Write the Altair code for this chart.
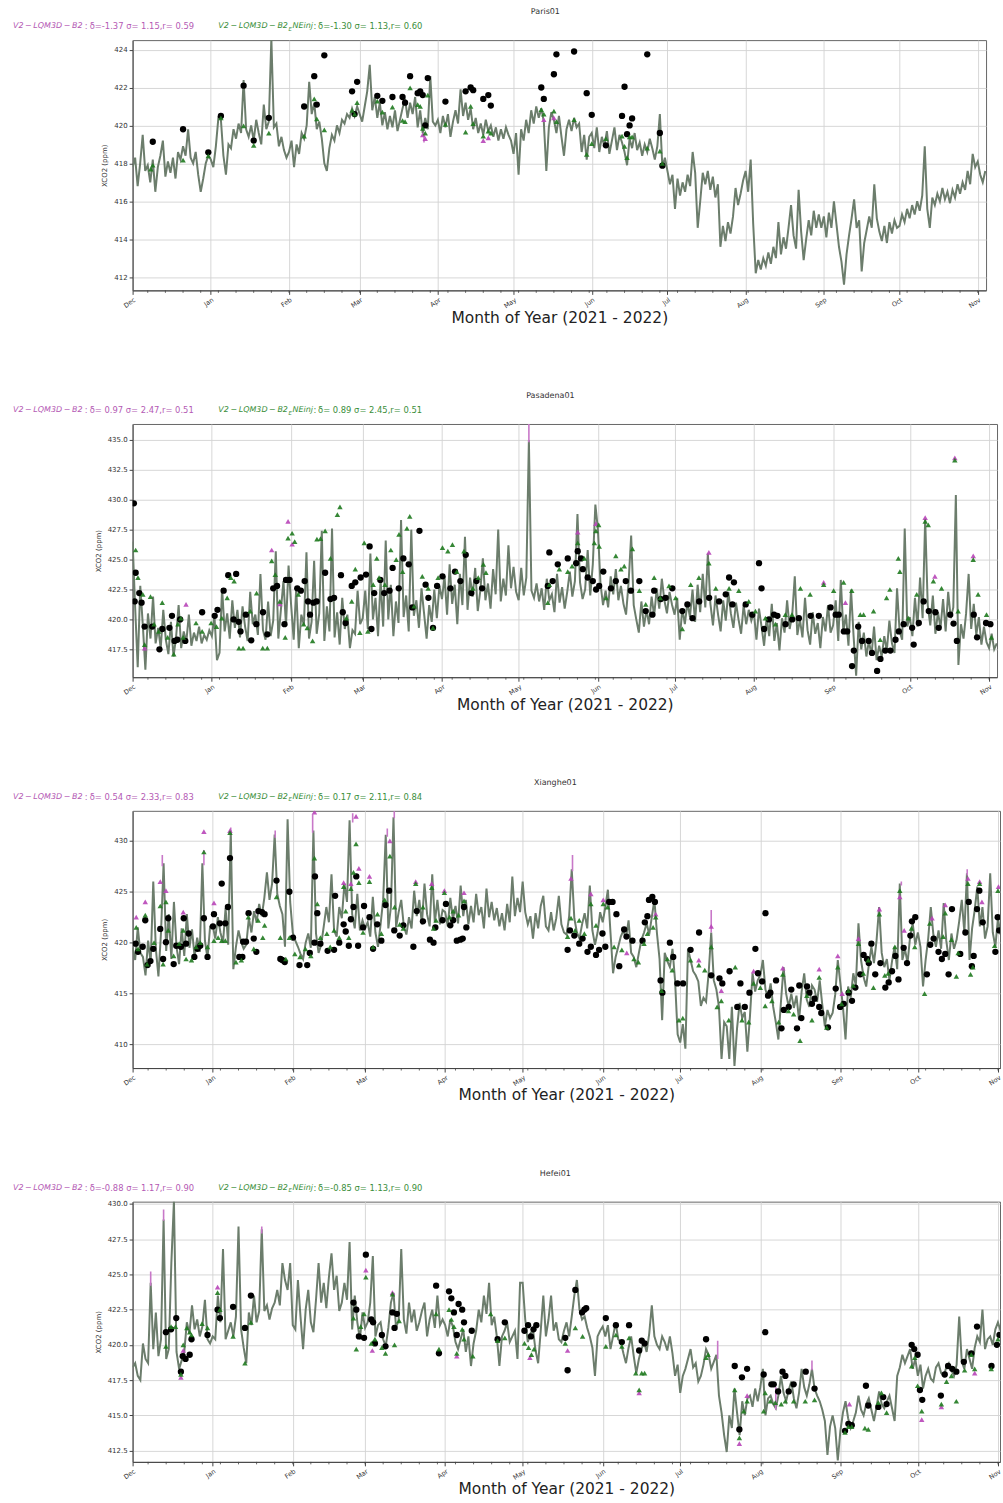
import altair as alt
import pandas as pd

START = pd.Timestamp("2021-12-01")
MONTHS = ["2021-12-01"] + ["2022-%02d-01" % m for m in range(1, 12)]

# ---------------- Paris01 ----------------
PARIS_LINE = [
    417.8, 418.3, 416.8, 418.0, 419.5, 417.6, 417.9, 417.0, 418.2, 416.5, 417.8, 418.4, 419.2, 417.3, 418.1, 417.5, 418.3, 417.2, 418.6, 418.2, 418.9, 418.4, 419.8, 418.3, 418.0, 418.6, 417.4, 416.5, 417.2, 418.0, 418.4,
    418.2, 417.8, 418.9, 420.4, 420.3, 418.4, 417.4, 419.0, 418.8, 419.8, 419.3, 420.1, 419.6, 422.4, 419.8, 419.4, 420.0, 419.2, 420.3, 419.6, 419.0, 421.1, 419.8, 420.2, 424.6, 419.9, 420.1, 418.9, 419.4, 418.7, 418.3,
    418.6, 419.2, 417.8, 419.0, 418.5, 419.6, 419.3, 420.0, 422.3, 420.6, 421.2, 419.8, 420.2, 419.3, 418.0, 417.6, 418.8, 419.5, 419.2, 420.0, 419.6, 420.3, 420.1, 420.6, 420.4, 420.9, 420.5, 421.0,
    420.6, 420.2, 421.0, 421.8, 423.2, 420.8, 421.5, 420.4, 421.2, 420.0, 420.7, 419.8, 420.5, 419.9, 420.8, 419.7, 420.3, 420.9, 421.4, 420.4, 421.2, 420.6, 421.5, 419.9, 420.8, 419.6, 420.4, 419.8, 422.6, 420.2, 420.0,
    420.3, 419.6, 420.5, 419.9, 420.6, 419.4, 420.2, 420.8, 420.1, 421.9, 420.5, 421.2, 420.3, 420.9, 419.8, 420.4, 419.6, 420.1, 419.5, 420.3, 419.7, 420.0, 419.4, 419.9, 419.2, 419.8, 419.3, 419.9, 419.5, 419.2,
    418.5, 419.6, 417.4, 419.8, 419.2, 420.3, 419.6, 420.8, 420.1, 421.0, 420.4, 420.9, 420.2, 417.6, 419.9, 420.7, 420.3, 419.6, 420.5, 419.4, 418.4, 419.8, 420.3, 419.7, 420.4, 419.9, 420.1, 418.6, 419.5, 418.2, 419.4,
    419.6, 418.8, 419.9, 418.6, 419.4, 418.9, 419.7, 418.5, 419.2, 419.9, 418.7, 419.5, 419.1, 418.6, 417.9, 419.3, 418.8, 419.6, 418.7, 419.1, 418.4, 419.0, 418.6, 419.3, 418.8, 418.2, 418.9, 420.6, 417.8, 418.3,
    417.6, 416.9, 417.4, 415.6, 417.2, 416.3, 417.0, 416.5, 417.4, 416.8, 418.6, 417.5, 414.6, 416.0, 417.5, 416.9, 417.6, 416.6, 417.3, 416.2, 416.9, 413.6, 414.7, 413.9, 414.9, 414.3, 415.2, 416.7, 415.8, 416.4, 417.1,
    417.6, 416.5, 418.2, 414.8, 412.2, 412.9, 412.4, 413.0, 412.6, 413.3, 412.7, 413.6, 413.0, 414.9, 413.2, 414.1, 413.5, 414.6, 415.8, 414.2, 413.5, 416.6, 414.4, 412.9, 414.0, 415.0, 414.2, 415.5, 414.6, 415.3, 414.6,
    415.2, 414.1, 415.4, 414.6, 416.0, 414.8, 413.6, 412.8, 411.6, 413.2, 414.2, 415.1, 416.1, 414.6, 415.0, 412.3, 413.8, 414.5, 415.2, 414.6, 416.9, 415.1, 414.4, 413.9, 414.7, 413.8, 414.9, 414.3, 415.0, 414.6,
    414.7, 415.3, 414.9, 415.6, 415.1, 415.8, 415.3, 416.0, 415.5, 416.3, 418.9, 415.6, 414.6, 416.2, 415.8, 416.4, 416.0, 416.7, 416.1, 416.5, 415.9, 416.6, 416.2, 416.9, 416.4, 417.0, 416.6, 417.6, 416.9, 418.5, 417.8,
    418.1, 417.4, 417.0, 417.6,
]
PARIS_OBS = [
    [8, 419.14], [20, 419.8], [30, 418.58], [35, 420.5], [44, 422.1], [48, 419.2], [54, 420.4], [68, 421.0], [72, 422.6], [73, 421.1],
    [76, 423.7], [87, 421.8], [89, 422.3], [88, 420.6], [97, 421.56], [99, 421.3], [103, 421.5], [107, 421.5], [108, 421.2], [110, 422.6],
    [113, 421.7], [114, 421.8], [115, 421.6], [117, 422.5], [116, 420.0], [124, 421.26], [132, 421.8], [134, 422.0], [135, 421.86], [139, 421.4],
    [141, 421.6], [142, 421.05], [162, 422.0], [163, 421.4], [167, 422.7], [168, 423.75], [175, 423.9], [180, 421.7], [182, 420.56], [187.6, 418.95],
    [194, 420.5], [195, 422.04], [196, 419.54], [197, 420.0], [198, 420.37], [204, 423.75], [209, 419.6], [210, 417.88],
]
PARIS_TRI_G = [
    [7.2, 417.7], [8, 417.9], [20, 418.17], [30, 418.4], [35, 420.4], [44, 419.98], [48, 418.95], [54, 419.6], [68, 419.44], [72, 421.4],
    [73, 420.35], [76, 419.77], [87, 420.8], [89, 421.2], [88, 420.6], [97, 421.28], [99, 420.7], [103, 420.96], [107, 420.26], [108, 420.2],
    [110, 421.98], [113, 421.1], [114, 421.0], [115, 419.84], [117, 421.6], [116, 419.6], [124, 420.05], [132, 419.65], [134, 421.0], [135, 420.1],
    [139, 419.44], [141, 419.7], [142, 419.6], [162, 420.84], [163, 420.6], [167, 420.75], [168, 420.2], [175, 420.3], [180, 418.47], [182, 419.04],
    [187.6, 419.3], [194, 419.44], [195, 418.9], [196, 418.3], [197, 419.4], [198, 419.4], [204, 418.8], [209, 418.65], [210, 418.0],
]
PARIS_TRI_M = [[115, 419.5], [116, 419.3], [139, 419.2], [141, 419.35], [163, 420.3], [167, 420.4]]
PARIS_PINK = [[115.5, 419.6, 419.1]]

# ---------------- Pasadena01 ----------------
PASA_LINE = [
    426.5, 421.0, 416.0, 422.8, 419.5, 415.8, 420.5, 418.4, 421.9, 418.0, 419.3, 417.6, 420.8, 418.3, 417.1, 419.8, 416.9, 418.5, 421.2, 417.6, 419.0, 418.1, 420.4, 417.8, 418.9, 418.2, 419.4, 418.0, 418.7, 418.3, 419.1,
    418.6, 420.3, 416.6, 417.2, 422.6, 419.0, 420.5, 418.4, 421.6, 419.3, 420.8, 418.5, 421.1, 419.4, 418.2, 422.3, 419.6, 420.4, 418.7, 423.8, 419.1, 418.3, 421.5, 418.6, 419.9, 425.7, 418.4, 420.8, 423.2, 419.5, 424.5,
    421.2, 418.3, 422.6, 417.6, 420.4, 419.5, 425.6, 418.4, 419.8, 424.9, 418.8, 420.5, 427.4, 418.2, 421.1, 419.0, 427.6, 418.5, 420.6, 417.9, 421.8, 419.2, 420.4, 417.6, 419.1, 418.8, 422.4, 419.6,
    420.1, 422.4, 419.2, 425.5, 420.0, 421.8, 418.6, 423.3, 419.4, 426.6, 420.0, 422.9, 418.6, 421.5, 419.7, 428.3, 420.2, 422.0, 419.0, 427.5, 420.3, 421.6, 419.3, 422.6, 420.5, 418.4, 421.2, 419.8, 422.5, 420.1, 422.8,
    421.7, 423.6, 420.4, 424.6, 421.3, 422.9, 419.6, 423.8, 421.2, 426.9, 420.8, 423.5, 421.9, 424.3, 420.7, 422.4, 425.1, 421.6, 423.0, 420.9, 424.2, 422.1, 427.5, 421.5, 423.4, 422.0, 426.2, 422.6, 424.4, 422.3,
    421.6, 424.3, 422.0, 423.5, 435.0, 422.4, 421.8, 423.0, 421.5, 422.6, 420.8, 423.4, 421.6, 422.1, 420.6, 423.8, 421.4, 422.7, 420.9, 422.3, 424.0, 421.9, 423.2, 428.8, 423.1, 421.7, 422.5, 425.8, 422.0, 424.6, 429.6,
    427.5, 423.0, 421.2, 422.4, 421.0, 423.6, 422.1, 424.2, 421.6, 422.8, 421.3, 420.4, 423.1, 427.0, 421.2, 420.0, 418.9, 421.5, 419.4, 420.8, 419.6, 421.9, 420.3, 422.6, 420.9, 423.4, 421.6, 420.5, 422.3, 421.2,
    420.4, 421.8, 418.3, 420.9, 419.6, 421.4, 420.2, 422.5, 419.8, 422.9, 420.6, 423.8, 421.0, 425.5, 421.3, 419.5, 422.0, 420.4, 419.0, 421.6, 419.9, 422.3, 420.5, 419.3, 421.4, 420.0, 418.8, 421.2, 419.6, 420.8, 419.9,
    420.6, 418.3, 420.9, 419.4, 417.8, 420.2, 418.6, 421.3, 418.2, 419.7, 417.4, 420.1, 418.9, 421.6, 419.2, 420.4, 423.6, 418.7, 420.0, 418.5, 421.8, 419.1, 417.9, 420.6, 418.8, 419.7, 417.6, 420.2, 419.0, 421.2, 418.9,
    419.5, 421.6, 418.2, 423.3, 419.0, 420.4, 417.8, 422.5, 418.6, 415.3, 419.8, 417.5, 418.9, 416.9, 418.2, 417.0, 419.4, 416.6, 417.8, 416.9, 418.6, 417.4, 419.9, 418.0, 417.2, 422.6, 419.0, 418.3, 427.6, 419.4,
    420.2, 418.6, 421.8, 419.4, 423.5, 420.1, 428.4, 421.2, 419.5, 422.0, 418.8, 420.6, 419.3, 421.7, 419.0, 422.3, 420.1, 421.0, 430.4, 416.2, 419.6, 418.4, 420.5, 423.8, 419.2, 421.3, 418.7, 420.2, 417.9, 419.4, 418.1,
    417.6, 418.8, 417.5, 418.0,
]
PASA_OBS = [
    [0.5, 429.7], [1.2, 423.9], [0.8, 421.5], [2.6, 422.2], [3.5, 421.4], [4.7, 419.4], [7.7, 419.4], [10.5, 417.5], [11.6, 419.2], [14.4, 419.3],
    [15.4, 420.3], [16.4, 418.2], [17.5, 418.3], [18.6, 420.0], [20.6, 418.2], [27.2, 420.6], [32.1, 420.3], [33.2, 420.8], [35.6, 422.4], [37.4, 423.7],
    [40.5, 423.8], [39.5, 420.0], [41.5, 419.8], [42.2, 419.0], [44.3, 420.4], [46.4, 418.25], [48.4, 419.6], [51.0, 420.6], [52.7, 418.75], [55.0, 422.6],
    [56.5, 422.8], [59.4, 419.6], [60.0, 423.3], [61.4, 423.3], [64.4, 422.6], [65.8, 422.4], [67.3, 423.2], [68.6, 421.5], [69.4, 420.4], [70.7, 421.4],
    [72.0, 421.5], [75.3, 423.9], [77.4, 421.7], [78.8, 421.8], [81.5, 423.7], [82.2, 420.6], [83.3, 419.7], [85.7, 422.8], [87.1, 423.1], [89.2, 423.5],
    [91.3, 423.75], [93.4, 419.2], [92.7, 426.1], [94.5, 422.2], [96.9, 423.3], [98.4, 422.2], [100.5, 422.4], [101.7, 424.3], [104.1, 422.6], [105.9, 425.1],
    [108.0, 424.6], [109.4, 421.0], [112.2, 427.4], [114.6, 422.9], [115.7, 421.8], [117.5, 419.3], [119.1, 422.8], [121.2, 423.6], [124.3, 422.6], [126.1, 424.0],
    [128.2, 423.2], [130.3, 425.4], [132.5, 422.2], [134.5, 423.2], [136.7, 422.6],
    [163.0, 425.6], [164.3, 423.2], [162.4, 422.8], [166.3, 424.6], [170.2, 425.1], [174.1, 425.7], [173.5, 424.7], [175.4, 425.1], [176.1, 424.2], [178.0, 423.5],
    [180.0, 423.2], [181.3, 422.5], [182.5, 422.8], [184.1, 424.0], [187.1, 422.6], [189.0, 423.2], [192.9, 423.2], [194.9, 422.4], [198.2, 423.2], [200.7, 420.7],
    [203.3, 420.4], [204.0, 422.4], [206.6, 421.7], [208.5, 421.8], [211.1, 422.6], [215.0, 420.7], [217.0, 421.25], [219.0, 420.1], [221.6, 421.5], [225.5, 421.8],
    [229.4, 421.5], [233.3, 423.5], [235.2, 423.1], [232.0, 422.1], [234.6, 421.25], [239.8, 421.25], [242.4, 420.4], [245.0, 424.7], [246.0, 422.6], [247.0, 419.2],
    [248.9, 420.0], [250.9, 420.4], [252.2, 420.3], [255.4, 419.6], [258.0, 420.0], [260.6, 420.1], [265.2, 420.3], [268.4, 420.3], [273.0, 421.0], [275.0, 420.4],
    [276.2, 420.4], [278.2, 419.0], [279.5, 419.0], [281.4, 416.1], [282.1, 417.4], [283.8, 419.4], [285.3, 418.2], [287.9, 418.2], [289.2, 417.2], [291.2, 415.7],
    [292.5, 416.7], [294.4, 417.4], [296.4, 417.4], [298.4, 418.3], [299.7, 419.0], [301.6, 419.6], [304.9, 419.3], [305.5, 417.9], [307.5, 419.7], [309.4, 421.5],
    [311.4, 420.7], [314.0, 420.6], [315.3, 419.3], [319.8, 420.4], [321.1, 419.65], [322.4, 418.2], [329.0, 420.4], [330.3, 418.5], [333.8, 419.7], [335.5, 419.6],
]
PASA_TRI_G = [
    [1.2, 425.8], [2.1, 423.5], [4.0, 422.1], [4.7, 417.9], [7.0, 421.9], [8.4, 419.6], [10.2, 419.0], [11.6, 421.4], [13.7, 418.5], [16.1, 417.1],
    [17.7, 419.6], [18.9, 420.1], [19.8, 418.5], [24.8, 419.7], [27.2, 419.0], [30.7, 419.7], [32.8, 419.4], [34.9, 420.1], [37.0, 421.8], [38.4, 423.5],
    [39.7, 423.2], [41.6, 417.6], [43.2, 417.6], [46.0, 420.7], [48.5, 422.2], [50.9, 417.6], [52.7, 417.6], [54.4, 424.9], [55.8, 423.75], [57.6, 421.5],
    [59.7, 418.5], [60.8, 426.8], [62.4, 427.2], [63.4, 426.5], [64.8, 422.1], [66.9, 419.6], [68.3, 419.3], [70.4, 418.2], [72.1, 426.7], [73.5, 426.75],
    [75.3, 427.4], [77.4, 425.1], [80.1, 428.75], [81.1, 429.4], [83.6, 420.1], [85.7, 421.5], [87.1, 424.2], [88.9, 418.9], [90.6, 426.4], [92.0, 419.0],
    [94.1, 422.9], [95.5, 425.1], [96.4, 423.5], [98.7, 422.9], [101.0, 425.8], [103.1, 425.0], [104.2, 427.1], [105.6, 424.0], [107.3, 427.6], [108.4, 428.6],
    [110.1, 421.1], [113.3, 423.6], [115.6, 422.6], [117.5, 419.3], [119.5, 423.5], [121.2, 426.0], [123.3, 425.7], [125.1, 426.25], [126.8, 424.0], [129.6, 425.7],
    [133.1, 422.6], [135.2, 423.5], [137.2, 424.6], [138.2, 423.9],
    [162.4, 421.4], [163.0, 422.9], [166.9, 424.2], [170.2, 424.0], [171.9, 424.45], [174.1, 426.4], [176.7, 425.1], [180.6, 426.4], [181.2, 427.4], [182.3, 427.9],
    [182.5, 426.1], [185.2, 421.8], [189.0, 425.3], [191.0, 424.2], [192.3, 424.45], [195.5, 425.9], [198.2, 422.4], [200.7, 421.25], [204.0, 423.5], [206.4, 421.8],
    [209.8, 422.8], [212.4, 421.8], [215.0, 419.2], [218.3, 422.9], [221.5, 423.5], [225.4, 424.7], [228.1, 422.6], [233.3, 422.6], [237.1, 422.4], [241.0, 421.5],
    [243.6, 420.7], [247.5, 420.1], [251.4, 419.6], [255.3, 420.4], [257.9, 420.4], [261.2, 422.6], [265.0, 422.1], [270.3, 422.9], [274.2, 422.4], [278.1, 423.1],
    [281.3, 422.4], [284.6, 420.4], [285.9, 420.4], [289.8, 420.7], [292.4, 418.3], [294.9, 421.8], [296.2, 422.5], [299.5, 425.1], [300.1, 424.0], [303.4, 420.1],
    [306.7, 422.1], [310.0, 428.2], [311.2, 427.9], [313.2, 423.2], [316.4, 422.6], [321.6, 433.3], [322.9, 420.7], [328.8, 425.0], [330.7, 422.1], [334.0, 420.4],
    [335.9, 418.5],
]
PASA_TRI_M = [
    [4.7, 417.6], [20.9, 421.25], [54.4, 425.8], [60.8, 428.2], [62.4, 426.3], [57.6, 421.3], [174.1, 427.3], [181.2, 428.0], [225.4, 425.6],
    [270.3, 423.1], [278.8, 421.4], [310.0, 428.5], [313.8, 423.6], [321.6, 433.5], [328.8, 425.3],
]
PASA_PINK = [[155, 434.8, 436.5]]

# ---------------- Xianghe01 ----------------
XIAN_LINE = [
    419.5, 418.3, 421.5, 419.0, 418.6, 416.8, 420.2, 418.0, 426.0, 419.4, 416.7, 421.0, 427.8, 419.2, 422.8, 418.4, 424.0, 419.6, 417.9, 421.4, 418.7, 422.8, 419.5, 421.3, 418.6, 420.5, 419.1, 427.8, 420.2, 418.5, 421.6,
    421.7, 420.4, 422.5, 421.0, 420.0, 423.4, 419.8, 431.0, 417.4, 419.6, 421.2, 420.1, 419.4, 419.8, 422.4, 421.0, 423.1, 422.0, 423.8, 422.6, 424.4, 426.9, 424.2, 425.8, 430.6, 424.8, 423.6, 422.8, 419.6, 432.1, 424.0,
    421.0, 420.2, 419.6, 418.9, 418.4, 420.0, 420.9, 419.5, 431.0, 420.9, 419.0, 419.8, 421.6, 423.5, 422.0, 426.7, 421.2, 420.6, 423.5, 422.4, 425.8, 424.0, 432.0, 422.8, 421.4, 424.8, 421.2, 422.2,
    421.4, 422.0, 420.6, 424.5, 421.0, 419.6, 421.8, 424.2, 430.6, 421.4, 423.5, 432.3, 421.5, 423.0, 424.2, 421.6, 420.8, 422.5, 421.4, 425.1, 422.6, 424.2, 421.8, 425.8, 422.8, 421.6, 426.7, 422.0, 424.2, 421.8, 423.2,
    423.0, 421.6, 424.4, 422.3, 423.6, 421.9, 425.6, 422.6, 424.2, 421.8, 423.6, 422.0, 424.8, 422.7, 423.5, 421.4, 425.3, 422.5, 424.0, 422.2, 423.4, 421.6, 422.9, 421.2, 423.8, 422.0, 426.5, 422.6, 424.4, 423.0,
    426.0, 423.0, 421.8, 422.6, 420.4, 422.9, 421.4, 423.6, 424.6, 421.6, 421.2, 423.0, 421.2, 422.4, 424.6, 421.8, 421.0, 420.8, 422.6, 427.2, 422.4, 421.0, 420.4, 421.8, 422.9, 421.4, 425.6, 421.2, 419.8, 421.0, 423.0,
    422.0, 423.5, 425.2, 421.0, 417.0, 418.6, 419.6, 420.6, 421.2, 420.4, 422.2, 419.0, 418.6, 417.6, 419.0, 420.3, 421.0, 421.9, 420.8, 422.5, 424.2, 420.9, 418.4, 412.4, 419.0, 418.2, 417.6, 419.4, 416.3, 411.0,
    410.2, 412.0, 409.6, 419.4, 418.3, 417.2, 416.8, 416.2, 413.8, 414.6, 414.2, 417.0, 421.0, 416.3, 415.4, 413.7, 408.6, 412.2, 411.8, 408.6, 413.7, 407.9, 411.6, 414.1, 412.6, 413.2, 409.3, 412.8, 417.0, 415.2, 416.3,
    416.8, 418.3, 415.4, 414.6, 416.0, 413.7, 412.2, 410.5, 414.2, 417.6, 415.0, 413.7, 415.0, 413.6, 414.8, 412.4, 415.2, 417.0, 414.4, 413.7, 415.8, 415.4, 414.2, 416.3, 413.9, 411.8, 413.4, 412.6, 413.1, 414.9, 418.3,
    416.0, 413.7, 410.5, 415.7, 414.6, 417.0, 415.8, 421.9, 418.3, 416.6, 415.7, 417.8, 419.6, 418.0, 420.2, 423.5, 419.0, 417.6, 418.4, 416.3, 418.2, 419.6, 417.4, 425.8, 418.3, 419.4, 418.0, 420.6, 421.9, 419.8,
    421.0, 419.6, 415.7, 418.3, 420.4, 423.5, 420.8, 419.6, 421.2, 419.4, 423.9, 420.2, 418.3, 420.9, 419.4, 420.3, 422.1, 424.2, 421.0, 426.8, 418.3, 421.4, 423.2, 425.5, 421.6, 423.5, 420.4, 421.6, 426.8, 421.0, 419.6,
    422.4, 420.8,
]
XIAN_OBS = [
    [1.2, 419.9], [2.1, 419.1], [3.9, 419.6], [4.9, 422.2], [5.8, 417.8], [6.9, 418.2], [8.0, 419.4], [10.7, 421.35], [11.8, 418.4], [12.9, 420.05],
    [13.8, 422.4], [15.9, 417.9], [16.9, 419.7], [18.7, 419.6], [19.8, 422.4], [20.7, 419.9], [21.7, 420.9], [23.9, 418.6], [25.1, 419.4], [26.2, 419.7],
    [27.6, 422.4], [29.0, 418.6], [31.5, 422.8], [31.1, 421.6], [34.5, 425.8], [33.8, 421.9], [35.9, 421.9], [36.9, 423.5], [37.7, 428.3], [41.3, 418.6],
    [42.5, 418.6], [42.8, 420.1], [43.9, 420.1], [44.9, 422.9], [46.9, 420.4], [47.9, 419.1], [48.7, 423.1], [50.1, 423.0], [51.1, 422.8], [55.7, 426.1],
    [57.2, 418.4], [57.9, 418.3], [58.9, 418.1], [60.7, 425.0], [62.1, 420.5], [64.6, 417.8], [67.6, 417.8], [68.6, 419.0], [70.4, 420.0], [70.6, 426.5],
    [71.5, 422.9], [72.7, 419.9], [75.5, 419.2], [78.0, 419.3], [78.4, 424.6], [80.0, 420.0], [81.7, 421.8], [82.5, 421.1], [83.7, 419.7], [84.5, 422.3],
    [85.5, 423.5], [86.6, 426.5], [87.3, 419.7], [89.2, 421.5], [89.6, 423.6], [91.7, 422.5], [93.1, 419.4], [94.7, 421.8], [96.3, 420.2], [97.9, 423.7],
    [99.3, 425.1], [101.3, 421.2], [103.4, 420.7], [104.8, 421.7], [108.7, 419.6], [110.0, 423.1], [112.4, 422.1], [115.1, 420.3], [116.5, 420.0], [117.2, 421.5],
    [120.0, 422.2], [121.3, 423.8], [123.0, 421.7], [124.1, 422.2], [125.5, 420.2], [126.9, 420.3], [127.8, 420.4], [128.3, 423.5], [129.2, 421.5],
    [168.4, 419.3], [169.3, 421.2], [171.0, 420.7], [172.9, 419.9], [174.2, 420.4], [176.1, 419.1], [177.4, 419.6], [179.4, 418.8], [180.6, 419.3], [181.9, 420.9],
    [183.0, 419.6], [184.5, 424.0], [185.8, 424.0], [187.3, 422.8], [188.4, 417.7], [190.3, 421.3], [191.2, 420.6], [193.5, 420.2], [197.4, 420.2], [198.3, 422.0],
    [199.3, 422.6], [199.9, 424.2], [201.2, 424.5], [202.2, 424.0], [204.4, 416.3], [205.1, 415.1], [208.0, 420.0], [209.3, 418.6], [210.9, 416.0], [213.1, 416.0],
    [216.0, 419.3], [219.3, 421.0], [224.0, 416.8], [227.2, 416.5], [228.3, 416.0], [231.1, 417.2], [234.1, 413.7], [235.3, 416.0], [237.0, 413.7], [238.8, 415.1],
    [241.1, 419.4], [242.1, 417.0], [245.0, 422.9], [243.7, 416.2], [246.0, 414.8], [246.9, 415.1], [249.1, 416.3], [251.2, 411.6], [252.1, 413.4], [254.0, 413.7],
    [255.0, 415.4], [257.2, 411.6], [258.1, 415.8], [258.9, 412.6], [261.1, 415.7], [262.0, 415.1], [263.0, 414.0], [264.0, 414.5], [265.8, 413.7], [266.6, 413.1],
    [269.2, 411.7], [272.2, 415.5], [273.9, 413.7], [275.3, 414.0], [277.2, 415.1], [278.5, 414.3], [279.8, 415.6], [281.7, 416.9], [283.0, 418.8], [284.3, 418.4],
    [285.0, 418.0], [286.0, 419.9], [287.5, 416.9], [289.5, 418.0], [291.4, 415.6], [292.7, 416.1], [294.0, 417.2], [295.3, 418.7], [296.5, 416.4], [298.5, 419.5],
    [299.8, 418.0], [301.7, 422.1], [303.0, 422.5], [301.1, 420.7], [307.5, 416.9], [308.8, 419.8], [310.1, 420.4], [312.0, 419.1], [313.3, 418.4], [314.6, 418.9],
    [315.9, 416.9], [317.2, 423.3], [320.4, 418.9], [322.4, 421.0], [323.7, 424.0], [324.9, 417.7], [325.6, 418.7], [326.9, 423.3], [327.8, 425.1], [329.1, 422.0],
    [334.0, 419.1], [334.9, 422.5], [335.5, 421.2],
]
XIAN_TRI_G = [
    [1.4, 421.5], [2.1, 419.4], [4.9, 422.7], [5.6, 417.9], [8.3, 420.0], [10.7, 423.6], [11.8, 417.9], [12.9, 424.0], [13.8, 421.2], [15.9, 418.7],
    [18.0, 419.9], [19.6, 421.2], [20.7, 418.4], [22.8, 418.3], [24.6, 419.6], [26.2, 420.0], [27.6, 428.9], [29.0, 419.6], [31.5, 420.2], [33.1, 420.5],
    [34.5, 420.2], [35.9, 420.2], [37.7, 430.8], [40.0, 418.1], [42.1, 418.3], [44.8, 422.5], [46.9, 419.4], [48.6, 422.2], [50.4, 420.5], [51.1, 421.7],
    [55.7, 424.5], [57.2, 420.5], [59.3, 418.4], [60.7, 420.5], [62.8, 418.9], [64.8, 418.6], [66.9, 419.4], [69.0, 418.7], [70.4, 428.3], [71.5, 423.8],
    [72.7, 420.5], [75.2, 420.9], [76.5, 419.6], [78.0, 421.2], [80.0, 420.5], [81.7, 425.5], [82.5, 423.1], [83.7, 420.5], [84.5, 425.3], [85.5, 426.9],
    [86.5, 429.7], [87.6, 425.9], [89.2, 421.0], [91.7, 426.0], [93.1, 419.6], [94.8, 422.8], [96.3, 420.9], [97.6, 424.2], [99.6, 428.5], [101.4, 423.5],
    [103.4, 421.8], [104.8, 421.4], [109.6, 425.8], [112.4, 423.5], [115.8, 425.4], [116.5, 421.4], [117.5, 422.2], [120.7, 424.9], [122.7, 422.5], [124.1, 423.1],
    [126.2, 422.7], [128.3, 424.1],
    [168.4, 420.6], [169.7, 422.4], [171.3, 421.2], [172.9, 422.2], [174.9, 420.9], [177.4, 423.8], [179.4, 421.7], [182.2, 423.8], [183.9, 423.5], [186.4, 419.6],
    [189.4, 419.3], [194.1, 418.4], [195.8, 418.1], [198.0, 419.9], [199.3, 420.9], [201.5, 421.5], [202.5, 422.5], [204.8, 415.3], [207.0, 418.4], [208.9, 417.3],
    [211.5, 412.4], [213.0, 412.6], [216.0, 418.3], [219.2, 417.8], [221.5, 417.3], [224.0, 419.6], [226.3, 413.7], [227.9, 414.3], [230.8, 412.4], [233.3, 417.6],
    [235.9, 412.4], [238.5, 412.2], [240.4, 416.0], [243.0, 415.6], [244.9, 413.8], [247.5, 414.3], [250.1, 412.2], [251.7, 416.9], [253.9, 413.3], [255.9, 413.0],
    [258.4, 410.4], [261.0, 414.8], [263.0, 412.4], [265.8, 416.6], [268.7, 411.7], [273.0, 417.6], [274.5, 414.0], [277.1, 415.3], [279.0, 415.8], [281.0, 419.9],
    [282.9, 417.0], [284.8, 418.3], [286.8, 415.6], [289.1, 422.8], [291.2, 416.8], [292.5, 417.0], [295.1, 419.6], [297.0, 425.1], [301.5, 421.4], [302.8, 419.6],
    [306.6, 415.0], [308.6, 421.9], [313.8, 420.6], [314.6, 422.9], [317.0, 420.3], [318.9, 416.7], [319.6, 419.0], [323.4, 425.8], [324.4, 416.9], [325.3, 417.6],
    [327.9, 425.8], [333.7, 419.7], [335.0, 425.1],
]
XIAN_TRI_M = [
    [1.4, 422.5], [4.9, 424.0], [10.7, 426.0], [12.9, 425.1], [19.6, 423.0], [27.6, 430.9], [31.5, 423.9], [37.7, 431.0], [48.6, 423.1], [70.4, 432.8],
    [81.7, 425.9], [84.5, 425.8], [86.5, 432.4], [87.6, 427.3], [91.7, 426.5], [99.6, 430.0], [109.6, 426.0], [115.8, 425.8], [120.7, 425.1], [128.3, 424.9],
    [169.7, 426.3], [177.4, 424.8], [182.2, 424.2], [191.3, 419.0], [202.5, 422.8], [219.2, 418.3], [224.0, 421.6], [227.9, 415.3], [240.4, 417.2], [251.7, 417.5],
    [265.8, 417.4], [273.0, 418.7], [274.7, 415.0], [281.0, 420.4], [289.1, 423.3], [297.0, 424.5], [298.7, 421.2], [309.5, 422.4], [314.6, 423.7], [323.4, 426.3],
    [327.9, 426.0], [328.8, 424.0], [335.2, 425.5],
]
XIAN_PINK = [
    [11.5, 427.5, 428.6], [27.6, 427.6, 429.1], [38, 430.8, 431.3], [55.2, 430.3, 431.0], [69.7, 430.8, 432.6], [85.2, 431.8, 432.7],
    [98.6, 430.4, 431.2], [101.3, 432.2, 432.9], [170.3, 427.0, 428.6], [224, 421.0, 423.2], [297.6, 425.6, 426.0], [323.1, 426.6, 427.2],
]

# ---------------- Hefei01 ----------------
HEFEI_LINE = [
    418.4, 418.7, 417.8, 417.5, 420.1, 419.0, 418.7, 424.4, 419.7, 422.3, 419.2, 420.4, 428.9, 419.0, 419.7, 425.8, 430.2, 419.5, 418.3, 418.9, 419.5, 421.6, 420.8, 422.8, 421.1, 421.8, 420.6, 421.3, 423.2, 420.4, 420.1,
    420.6, 420.4, 423.5, 421.6, 426.8, 420.4, 421.0, 421.6, 420.6, 422.0, 428.4, 421.1, 419.8, 418.7, 422.3, 421.4, 423.5, 421.6, 422.4, 428.2, 422.4, 422.8, 421.8, 422.6, 423.0, 423.9, 422.8, 425.8, 424.6, 423.9, 425.8,
    421.4, 421.1, 424.6, 422.0, 419.7, 422.5, 423.9, 421.6, 420.9, 423.2, 425.8, 423.0, 424.4, 422.6, 424.8, 426.5, 423.9, 424.9, 422.4, 423.0, 424.4, 423.2, 427.3, 421.1, 423.5, 421.6, 420.4, 422.3,
    421.2, 421.6, 423.0, 426.3, 420.6, 421.4, 421.6, 420.4, 419.9, 421.2, 423.0, 423.7, 421.2, 421.8, 426.8, 421.8, 420.8, 423.0, 421.6, 422.5, 421.0, 421.6, 422.4, 423.0, 420.6, 421.8, 422.5, 421.2, 423.5, 421.4, 421.8,
    421.4, 420.6, 421.8, 421.3, 420.2, 419.7, 420.4, 421.1, 419.5, 420.6, 418.5, 420.1, 421.0, 422.5, 421.6, 423.5, 422.2, 424.4, 421.4, 422.0, 420.6, 418.5, 420.6, 421.0, 421.6, 420.2, 420.6, 421.0, 419.0, 424.4,
    424.4, 421.8, 420.2, 420.8, 421.1, 419.6, 418.7, 421.0, 423.5, 420.6, 421.8, 423.5, 421.0, 421.6, 420.4, 420.2, 421.0, 421.6, 420.6, 422.0, 423.5, 424.6, 422.5, 421.8, 422.0, 421.2, 420.6, 419.8, 417.8, 420.6, 421.0,
    421.3, 420.6, 421.4, 419.7, 420.6, 421.6, 420.4, 420.2, 419.4, 418.7, 419.8, 420.6, 419.2, 418.0, 419.0, 419.7, 420.2, 419.5, 420.8, 422.8, 420.6, 420.0, 419.7, 420.6, 420.2, 419.6, 420.6, 419.4, 417.8, 418.6,
    416.6, 417.8, 418.3, 419.0, 419.7, 418.4, 418.7, 417.4, 417.8, 418.6, 419.7, 419.3, 418.3, 418.8, 419.3, 416.4, 415.2, 413.6, 412.4, 415.0, 414.1, 416.9, 415.2, 413.6, 416.0, 415.0, 416.2, 416.4, 415.6, 416.9, 416.0,
    417.0, 418.3, 415.0, 416.2, 416.4, 415.8, 415.5, 416.4, 417.8, 416.6, 416.0, 416.8, 417.4, 416.2, 415.5, 416.6, 418.3, 417.0, 416.4, 417.2, 418.3, 416.9, 416.4, 416.0, 415.4, 414.6, 412.2, 414.2, 415.0, 414.1, 411.8,
    413.9, 415.2, 416.0, 414.8, 414.1, 414.6, 415.2, 416.4, 415.4, 415.0, 415.8, 416.2, 415.4, 414.6, 415.6, 416.7, 415.8, 415.5, 416.0, 416.4, 415.5, 414.6, 417.8, 418.4, 419.3, 418.7, 419.2, 419.7, 418.3, 419.0,
    417.8, 418.6, 416.9, 417.8, 418.3, 417.6, 417.4, 418.4, 418.7, 418.0, 417.8, 418.4, 418.7, 418.2, 417.8, 418.6, 422.0, 418.8, 418.3, 419.7, 419.0, 418.3, 419.8, 420.6, 420.2, 422.5, 419.7, 420.4, 420.6, 420.0, 421.1,
    421.6, 421.0,
]
HEFEI_OBS = [
    [12.9, 420.9], [14.9, 421.1], [16.9, 421.9], [18.7, 418.1], [19.4, 419.2], [20.5, 419.0], [22.1, 419.3], [22.8, 420.4], [29.0, 420.7], [32.9, 422.5],
    [33.8, 421.9], [38.9, 422.7], [43.5, 421.2], [45.8, 423.5], [85.5, 423.0], [86.6, 422.5], [87.6, 420.6], [89.6, 420.5], [90.3, 426.4], [92.4, 421.8],
    [93.1, 421.6], [93.8, 420.1], [96.5, 420.7], [97.9, 419.9], [100.6, 422.3], [101.4, 421.2], [102.3, 422.2], [117.5, 424.2], [118.6, 419.4], [122.5, 423.8],
    [123.4, 423.3], [124.4, 422.3], [125.5, 420.7], [126.2, 422.9], [127.6, 422.5], [128.3, 421.6], [131.3, 421.0], [141.3, 420.4], [144.1, 421.6], [151.7, 421.0],
    [153.1, 421.4], [154.2, 420.6], [155.2, 421.1], [156.3, 421.4], [167.5, 420.5], [168.4, 418.2], [171.4, 423.9], [174.0, 422.3], [174.9, 422.5], [175.6, 422.6],
    [183.2, 421.9], [187.1, 421.4], [189.4, 420.2], [192.2, 421.4], [196.1, 419.6], [197.1, 420.3], [198.2, 420.1], [222.0, 420.4], [233.1, 418.5], [234.9, 414.0],
    [235.9, 417.7], [237.9, 418.3], [244.3, 417.9], [244.9, 420.9], [247.3, 417.2], [248.2, 417.2], [249.9, 416.7], [251.6, 418.1], [252.7, 417.8], [254.0, 416.7],
    [255.9, 417.2], [260.6, 418.1], [264.0, 416.9], [275.8, 413.9], [277.1, 414.4], [278.4, 414.3], [283.9, 417.1], [284.8, 415.7], [288.7, 415.6], [290.6, 416.3],
    [291.9, 415.8], [301.6, 420.0], [302.6, 419.7], [303.9, 419.3], [304.8, 416.8], [305.7, 416.1], [312.9, 416.4], [314.4, 417.9], [315.7, 418.5], [317.3, 418.3],
    [318.9, 418.1], [321.8, 418.8], [324.7, 419.4], [326.9, 421.3], [332.5, 418.5], [334.6, 420.0], [335.6, 420.7],
]
HEFEI_TRI_G = [
    [12.9, 419.9], [14.9, 421.3], [16.6, 421.3], [18.7, 417.9], [19.6, 420.0], [21.0, 421.2], [22.1, 420.9], [22.8, 420.7], [26.9, 421.5], [29.0, 421.2],
    [32.9, 423.7], [33.8, 422.5], [38.9, 420.6], [43.5, 418.7], [45.8, 421.6], [85.5, 421.9], [86.6, 419.7], [88.3, 421.3], [89.6, 422.2], [90.3, 424.8],
    [92.4, 420.1], [93.8, 420.4], [96.5, 419.8], [97.9, 419.4], [100.6, 423.6], [101.4, 420.0], [103.2, 421.7], [117.5, 422.2], [118.6, 419.7], [122.5, 422.5],
    [123.4, 421.8], [124.4, 421.3], [125.5, 419.4], [127.6, 421.1], [128.3, 420.4], [131.7, 419.2], [138.6, 422.2], [141.3, 420.3], [144.1, 420.5], [151.7, 420.1],
    [153.3, 419.8], [154.4, 419.3], [155.4, 419.7],
    [167.5, 420.1], [171.4, 421.2], [174.2, 420.6], [183.2, 419.9], [187.1, 420.7], [189.4, 419.9], [192.2, 420.5], [194.8, 418.0], [196.1, 416.8], [197.1, 418.0],
    [198.2, 418.0], [222.0, 419.1], [222.8, 419.3], [233.1, 416.8], [234.9, 413.4], [236.6, 415.3], [237.9, 416.0], [244.3, 415.3], [244.9, 416.6], [246.9, 416.0],
    [248.8, 415.9], [251.1, 415.8], [252.7, 416.0], [255.9, 416.0], [260.4, 416.0], [264.0, 416.1], [275.8, 413.8], [277.1, 414.2], [278.4, 414.2], [283.5, 414.1],
    [284.8, 414.0], [288.7, 415.9], [289.9, 416.6], [291.9, 415.2], [301.6, 418.5], [302.8, 419.1], [303.9, 417.1], [305.5, 415.3], [313.1, 415.8], [315.1, 417.4],
    [317.0, 417.8], [318.9, 416.0], [322.1, 418.2], [324.7, 419.3], [326.0, 418.3], [332.4, 418.3], [335.0, 420.4],
]
HEFEI_TRI_M = [
    [32.9, 424.1], [90.3, 425.3], [100.6, 423.7], [18.7, 417.7], [19.6, 419.6], [92.8, 419.6], [125.5, 419.2], [153.8, 419.1],
    [168.4, 419.6], [196.1, 416.6], [234.9, 413.0], [237.9, 416.4], [277.5, 415.8], [305.5, 414.7], [313.1, 415.6], [326.0, 418.0],
]
HEFEI_PINK = [[12, 428.8, 429.6], [50, 427.9, 428.4], [7, 424.2, 425.2], [226.5, 419.0, 420.3], [249, 415.4, 417.0], [263, 418.2, 418.9]]

STATS = {
    "Paris01": ("δ=-1.37 σ= 1.15,r= 0.59", "δ=-1.30 σ= 1.13,r= 0.60"),
    "Pasadena01": ("δ= 0.97 σ= 2.47,r= 0.51", "δ= 0.89 σ= 2.45,r= 0.51"),
    "Xianghe01": ("δ= 0.54 σ= 2.33,r= 0.83", "δ= 0.17 σ= 2.11,r= 0.84"),
    "Hefei01": ("δ=-0.88 σ= 1.17,r= 0.90", "δ=-0.85 σ= 1.13,r= 0.90"),
}

MAG = "#b845b8"
GRN = "#1f7a1f"
TXT_M = "#b45ab4"
TXT_G = "#3a8e3a"
LINE_C = "#6c7d6c"
TS = "\u2009"  # thin space used around the math minus signs


def to_dt(ts):
    return alt.DateTime(year=ts.year, month=ts.month, date=ts.day, hours=ts.hour, minutes=ts.minute)


def days_to_dates(days):
    return [START + pd.Timedelta(hours=float(d) * 24.0) for d in days]


def panel(name, line, obs, tri_g, tri_m, pink, ydom, yticks, yfmt, width, height, end_day, title_x):
    left = 132
    xscale = alt.Scale(domain=[to_dt(START), to_dt(START + pd.Timedelta(hours=end_day * 24))])
    month_vals = [to_dt(pd.Timestamp(m)) for m in MONTHS]
    xaxis = alt.Axis(values=month_vals, format="%b", labelAngle=-35, labelAlign="right", labelBaseline="top",
                     labelFontSize=6.5, labelPadding=2, tickSize=4, title="Month of Year (2021 - 2022)",
                     titleFontSize=15.5, titleFontWeight="normal", titleColor="#222", titlePadding=1)
    yaxis = alt.Axis(values=yticks, format=yfmt, labelFontSize=7, tickSize=3.5, labelPadding=2,
                     title="XCO2 (ppm)", titleFontSize=7, titleFontWeight="normal", titleColor="#333", titlePadding=6)
    X = alt.X("date:T", scale=xscale, axis=xaxis)
    Y = alt.Y("v:Q", scale=alt.Scale(domain=ydom, nice=False, zero=False), axis=yaxis)

    df_line = pd.DataFrame({"date": days_to_dates(range(len(line))), "v": line})
    df_obs = pd.DataFrame({"date": days_to_dates([p[0] for p in obs]), "v": [p[1] for p in obs]})
    df_tg = pd.DataFrame({"date": days_to_dates([p[0] for p in tri_g]), "v": [p[1] for p in tri_g]})
    df_tm = pd.DataFrame({"date": days_to_dates([p[0] for p in tri_m]), "v": [p[1] for p in tri_m]})
    df_pk = pd.DataFrame({"date": days_to_dates([p[0] for p in pink]), "v": [p[1] for p in pink], "v2": [p[2] for p in pink]})
    minor_days = list(range(6, int(end_day) + 1, 7))
    df_minor = pd.DataFrame({"date": days_to_dates(minor_days)})

    base_line = alt.Chart(df_line).mark_line(color=LINE_C, strokeWidth=2.0, clip=True).encode(x=X, y=Y)
    pinkl = alt.Chart(df_pk).mark_rule(color="#c878c8", strokeWidth=1.6, clip=True).encode(x=X, y=Y, y2="v2:Q")
    tm = alt.Chart(df_tm).mark_point(shape="triangle-up", filled=True, size=30, color=MAG, opacity=0.9, clip=True).encode(x=X, y=Y)
    dots = alt.Chart(df_obs).mark_circle(size=40, color="black", opacity=1, clip=True).encode(x=X, y=Y)
    tg = alt.Chart(df_tg).mark_point(shape="triangle-up", filled=True, size=30, color=GRN, opacity=0.9, clip=True).encode(x=X, y=Y)
    minor = alt.Chart(df_minor).mark_rule(color="#444", strokeWidth=0.8).encode(
        x=X, y=alt.value(height), y2=alt.value(height + 2.5))

    sm, sg = STATS[name]

    def txt(s, xpos, ypos, color, size=8.4, style="normal"):
        return alt.Chart(pd.DataFrame({"t": [s]})).mark_text(
            align="left", baseline="middle", fontSize=size, fontStyle=style, color=color, font="DejaVu Sans"
        ).encode(x=alt.value(xpos - left), y=alt.value(ypos), text="t:N")

    ty = -14
    prefix = "V2" + TS + "−" + TS + "LQM3D" + TS + "−" + TS + "B2"
    texts = [
        txt(prefix, 12, ty, TXT_M, size=8.0, style="italic"),
        txt(":", 84, ty, TXT_M),
        txt(sm, 89, ty, TXT_M),
        txt(prefix, 218, ty, TXT_G, size=8.0, style="italic"),
        txt("E", 288.3, ty + 2.5, TXT_G, size=5.5, style="italic"),
        txt("NEinj", 292.3, ty, TXT_G, size=8.0, style="italic"),
        txt(":", 313.5, ty, TXT_G),
        txt(sg, 318, ty, TXT_G),
    ]
    title = alt.Chart(pd.DataFrame({"t": [name]})).mark_text(
        align="center", baseline="middle", fontSize=8, color="#333", font="DejaVu Sans"
    ).encode(x=alt.value(title_x - left), y=alt.value(-28), text="t:N")

    return alt.layer(base_line, pinkl, tm, dots, tg, minor, title, *texts).properties(width=width, height=height)


p1 = panel("Paris01", PARIS_LINE, PARIS_OBS, PARIS_TRI_G, PARIS_TRI_M, PARIS_PINK,
           [411.3, 424.5], [412, 414, 416, 418, 420, 422, 424], "d", 856, 251, 338.3, 546)
p2 = panel("Pasadena01", PASA_LINE, PASA_OBS, PASA_TRI_G, PASA_TRI_M, PASA_PINK,
           [415.17, 436.33], [417.5, 420.0, 422.5, 425.0, 427.5, 430.0, 432.5, 435.0], ".1f", 867, 254, 338.1, 551)
p3 = panel("Xianghe01", XIAN_LINE, XIAN_OBS, XIAN_TRI_G, XIAN_TRI_M, XIAN_PINK,
           [407.7, 432.94], [410, 415, 420, 425, 430], "d", 870, 258, 335.8, 556)
p4 = panel("Hefei01", HEFEI_LINE, HEFEI_OBS, HEFEI_TRI_G, HEFEI_TRI_M, HEFEI_PINK,
           [411.7, 430.16], [412.5, 415.0, 417.5, 420.0, 422.5, 425.0, 427.5, 430.0], ".1f", 870, 261, 335.8, 556)

chart = alt.vconcat(p1, p2, p3, p4, spacing=64).properties(
    padding={"left": 12, "top": 5, "right": 0, "bottom": 0},
    background="white",
).configure(font="DejaVu Sans").configure_view(
    stroke="#666", strokeWidth=1
).configure_axis(
    grid=True, gridColor="#d2d2d2", gridWidth=0.9, domainColor="#444", tickColor="#444",
    labelColor="#333", labelFont="DejaVu Sans", titleFont="DejaVu Sans"
)

chart.save("out.html", embed_options={"renderer": "svg", "actions": False})
